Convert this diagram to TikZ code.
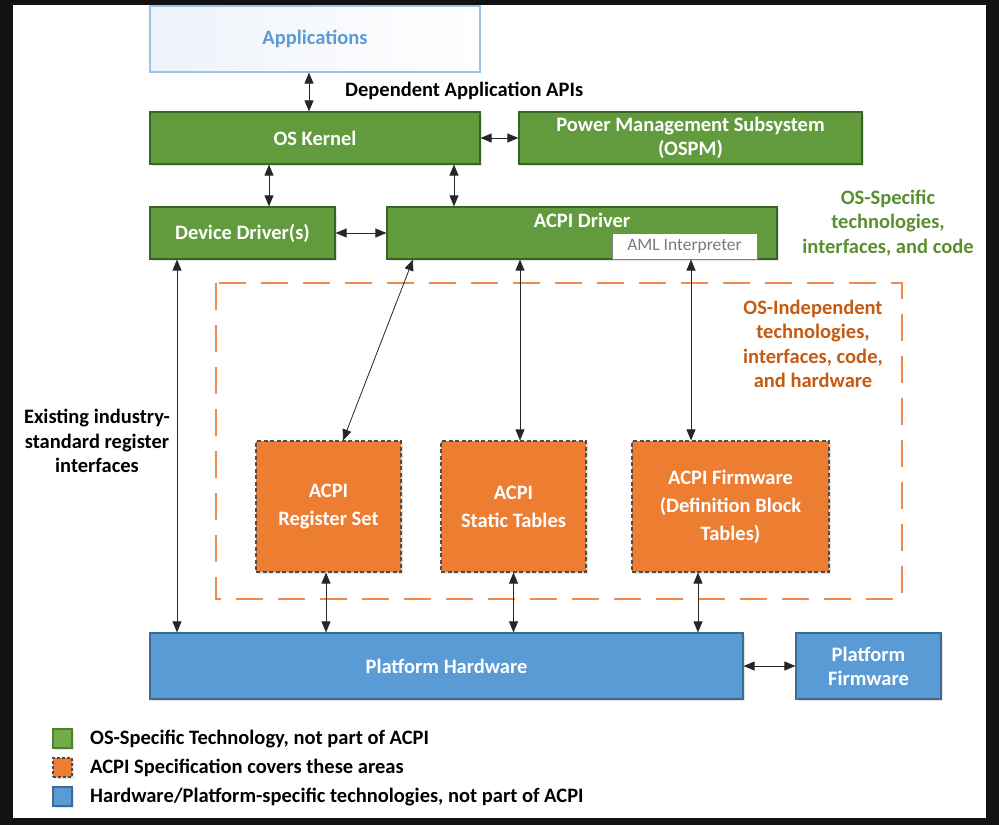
\documentclass[tikz,border=0pt]{standalone}
\usepackage{fontspec}
\setmainfont{Carlito}
\usetikzlibrary{arrows.meta,shadows}
\definecolor{gfill}{HTML}{629B3D}
\definecolor{gdraw}{HTML}{3B6424}
\definecolor{ofill}{HTML}{ED7D31}
\definecolor{odraw}{HTML}{4D4D4D}
\definecolor{bfill}{HTML}{5B9BD5}
\definecolor{bdraw}{HTML}{3D6B94}
\definecolor{appdraw}{HTML}{9DC3E6}
\definecolor{apptext}{HTML}{5B9BD5}
\definecolor{apptop}{HTML}{EEF2FA}
\definecolor{ostext}{HTML}{5A8F30}
\definecolor{oitext}{HTML}{C55A11}
\definecolor{outerdash}{HTML}{EE8A4E}
\definecolor{lgfill}{HTML}{70AD47}
\definecolor{lgdraw}{HTML}{507E32}
\begin{document}
\begin{tikzpicture}[x=1pt,y=-1pt,
  shd/.style={drop shadow={opacity=0.22,shadow xshift=1.5pt,shadow yshift=-2pt}},
  base/.style={rectangle,inner sep=2pt,align=center,font=\fontsize{20.5}{28}\selectfont\bfseries},
  gbox/.style={base,shd,fill=gfill,draw=gdraw,line width=1.2pt,text=white},
  obox/.style={base,shd,fill=ofill,draw=odraw,line width=1.1pt,dash pattern=on 4pt off 2.5pt,text=white},
  bbox/.style={base,shd,fill=bfill,draw=bdraw,line width=1.2pt,text=white},
  lbl/.style={align=center,inner sep=0pt,font=\fontsize{20.5}{24.5}\selectfont\bfseries},
  arr/.style={{Triangle[length=11pt,width=9pt]}-{Triangle[length=11pt,width=9pt]},line width=0.8pt,draw=black!85},
  lg/.style={rectangle,minimum width=19pt,minimum height=19pt,inner sep=0pt,line width=1.2pt,shd},
  lgtext/.style={anchor=west,inner sep=0pt,font=\fontsize{20.5}{24}\selectfont\bfseries}
]
\useasboundingbox (0,0) rectangle (999,825);
\fill[black!93] (0,0) rectangle (999,825);
\fill[white] (13,5) rectangle (986,818);

% boxes
\node[base,draw=appdraw,line width=1.2pt,left color=apptop,right color=white,text=apptext,
      minimum width=330pt,minimum height=66pt] (apps) at (315,39) {Applications};
\node[gbox,minimum width=330pt,minimum height=52pt] (kernel) at (315,138) {OS Kernel};
\node[gbox,minimum width=343pt,minimum height=52pt,font=\fontsize{20.5}{24}\selectfont\bfseries] (ospm) at (690.5,138) {Power Management Subsystem\\(OSPM)};
\node[gbox,minimum width=185pt,minimum height=52pt] (dd) at (242.5,233) {Device Driver(s)};
\node[gbox,minimum width=390pt,minimum height=52pt] (acpid) at (582,233) {};
\node[lbl,text=white] (acpidlbl) at (582,220) {ACPI Driver};
\node[rectangle,fill=white,draw=black!50,line width=1pt,minimum width=145pt,minimum height=26pt,
      inner sep=0pt,text=black!52,font=\fontsize{17.5}{18}\selectfont] (aml) at (684.5,246) {AML Interpreter};

\node[lbl,text=ostext] (ostxt) at (888,223) {OS-Specific\\technologies,\\interfaces, and code};

% outer dashed region
\draw[outerdash,line width=2pt,dash pattern=on 27pt off 15pt] (216,283) rectangle (902,599);
\node[lbl,text=oitext] (oitxt) at (813,344) {OS-Independent\\technologies,\\interfaces, code,\\and hardware};

\node[obox,minimum width=145pt,minimum height=131pt] (reg) at (328.5,506.5) {ACPI\\Register Set};
\node[obox,minimum width=145pt,minimum height=131pt] (stat) at (513.5,506.5) {ACPI\\Static Tables};
\node[obox,minimum width=197pt,minimum height=131pt] (fw) at (730.5,506.5) {ACPI Firmware\\(Definition Block\\Tables)};

\node[bbox,minimum width=593pt,minimum height=66pt] (ph) at (446.5,666) {Platform Hardware};
\node[bbox,minimum width=145pt,minimum height=66pt,font=\fontsize{20.5}{24}\selectfont\bfseries] (pf) at (868.5,666) {Platform\\Firmware};

% free labels
\node[lbl,anchor=west] (dep) at (345,91) {Dependent Application APIs};
\node[lbl] (exist) at (97,441) {Existing industry-\\standard register\\interfaces};

% connectors
\coordinate (c1) at ([xshift=-6pt]apps.south);
\draw[arr] (c1) -- (c1 |- kernel.north);
\draw[arr] (kernel.east) -- (ospm.west);
\coordinate (c2) at ([xshift=26.5pt]dd.north);
\draw[arr] (c2 |- kernel.south) -- (c2);
\coordinate (c3) at ([xshift=-128pt]acpid.north);
\draw[arr] (c3 |- kernel.south) -- (c3);
\draw[arr] (dd.east) -- (acpid.west);
\draw[arr] ([xshift=-169pt]acpid.south) -- ([xshift=14.5pt]reg.north);
\coordinate (c4) at ([xshift=6.5pt]stat.north);
\draw[arr] (c4 |- acpid.south) -- (c4);
\coordinate (c5) at ([xshift=6.5pt]aml.south);
\draw[arr] (c5) -- (c5 |- fw.north);
\coordinate (c6) at ([xshift=-65.5pt]dd.south);
\draw[arr] (c6) -- (c6 |- ph.north);
\coordinate (c7) at ([xshift=-2.5pt]reg.south);
\draw[arr] (c7) -- (c7 |- ph.north);
\coordinate (c8) at (stat.south);
\draw[arr] (c8) -- (c8 |- ph.north);
\coordinate (c9) at ([xshift=-32.5pt]fw.south);
\draw[arr] (c9) -- (c9 |- ph.north);
\draw[arr] (ph.east) -- (pf.west);

% legend
\node[lg,fill=lgfill,draw=lgdraw] (lg1) at (62.5,738.5) {};
\node[lg,fill=ofill,draw=odraw,dash pattern=on 3pt off 2pt] (lg2) at (62.5,767.5) {};
\node[lg,fill=bfill,draw=bdraw] (lg3) at (62.5,796.5) {};
\node[lgtext] (lt1) at (90,739) {OS-Specific Technology, not part of ACPI};
\node[lgtext] (lt2) at (90,768) {ACPI Specification covers these areas};
\node[lgtext] (lt3) at (90,797) {Hardware/Platform-specific technologies, not part of ACPI};
\end{tikzpicture}
\end{document}
